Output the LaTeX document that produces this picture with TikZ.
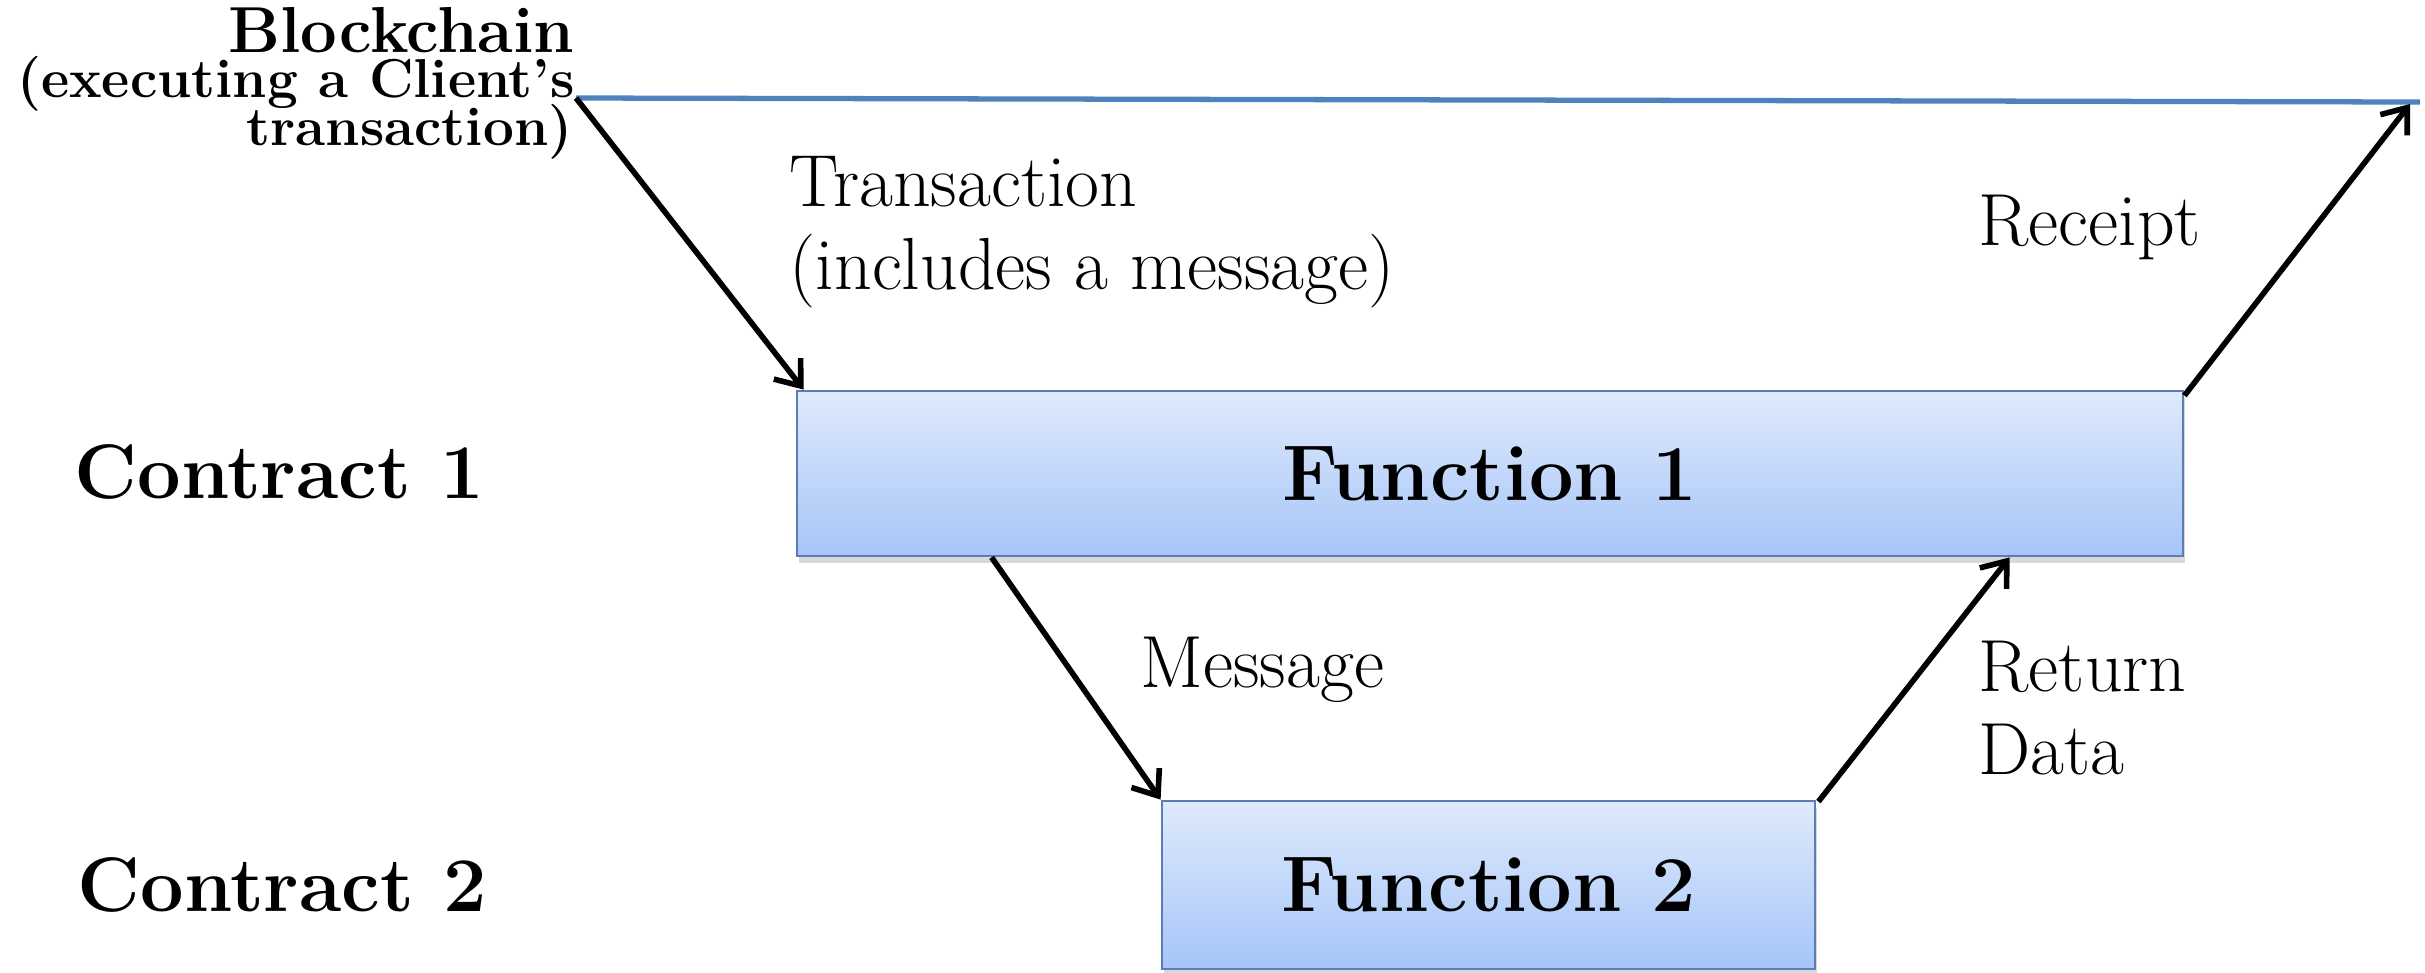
\documentclass[tikz,border=0pt]{standalone}
\usepackage{fontspec}
\usetikzlibrary{arrows.meta,shadows,calc}
\definecolor{boxtop}{RGB}{223,234,252}
\definecolor{boxbot}{RGB}{166,197,248}
\definecolor{boxline}{RGB}{90,126,180}
\definecolor{chainline}{RGB}{79,129,189}
\tikzset{
  fbox/.style={draw=boxline, line width=0.8pt, top color=boxtop, bottom color=boxbot,
    inner sep=0pt, font=\bfseries\fontsize{22.5}{26}\selectfont,
    drop shadow={shadow xshift=0.2mm, shadow yshift=-0.7mm, opacity=0.3}},
  lbl/.style={inner sep=0pt, align=left, anchor=west, font=\fontsize{21}{23.5}\selectfont},
  side/.style={inner sep=0pt, anchor=west, font=\bfseries\fontsize{22}{26}\selectfont},
  bcl/.style={inner sep=0pt, anchor=base east, font=\bfseries\fontsize{15.6}{18}\selectfont},
  flow/.style={line width=1.6pt, -{Straight Barb[length=2.2mm,width=3.4mm,line width=1.6pt]}},
}
\begin{document}
\begin{tikzpicture}
\useasboundingbox (0,0) rectangle (24.25,-9.72);
% blockchain line
\coordinate (bcL) at (5.76,-0.98);
\coordinate (bcR) at (24.20,-1.02);
\coordinate (rcv) at (24.10,-1.04);
\draw[chainline, line width=1.5pt] (bcL) -- (bcR);
\node[bcl, font=\bfseries\fontsize{18.5}{22}\selectfont] (bc1) at (5.75,-0.52) {Blockchain};
\node[bcl] (bc2) at (5.75,-0.97) {(executing a Client's};
\node[bcl] (bc3) at (5.73,-1.45) {transaction)};
% boxes
\node[fbox, minimum width=13.86cm, minimum height=1.65cm] (f1) at (14.90,-4.735) {Function 1};
\node[fbox, minimum width=6.53cm, minimum height=1.68cm] (f2) at (14.885,-8.85) {Function 2};
% side labels
\node[side] (c1) at (0.74,-4.72) {Contract 1};
\node[side] (c2) at (0.77,-8.85) {Contract 2};
% flow labels
\node[lbl] (tx) at (7.89,-2.32) {Transaction\\(includes a message)};
\node[lbl] (rc) at (19.78,-2.27) {Receipt};
\node[lbl] (ms) at (11.40,-6.70) {Message};
\node[lbl] (rd) at (19.78,-7.08) {Return\\Data};
% arrows
\draw[flow] (bcL) -- ($(f1.north west)+(0.08,0)$);
\draw[flow] ($(f1.north east)+(0,-0.06)$) -- (rcv);
\draw[flow] ($(f1.south west)+(1.96,0)$) -- (f2.north west);
\draw[flow] ($(f2.north east)+(0.02,-0.02)$) -- ($(f1.south west)+(12.14,0)$);
\end{tikzpicture}
\end{document}
